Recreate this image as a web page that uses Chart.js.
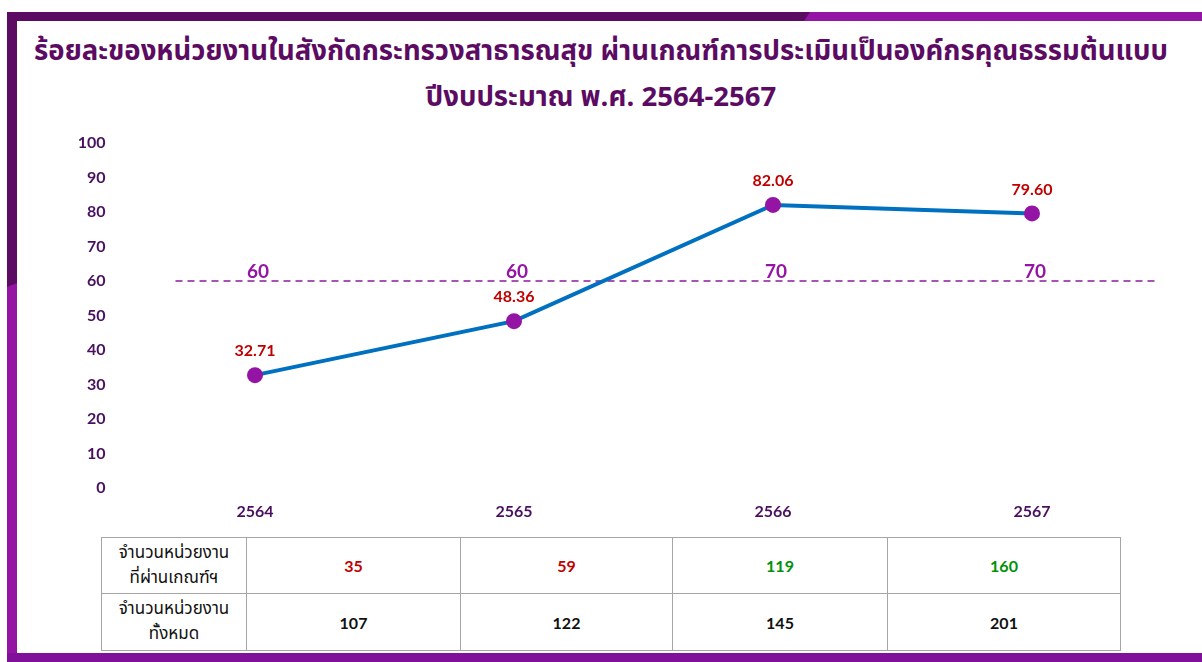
<!DOCTYPE html>
<html>
<head>
<meta charset="utf-8">
<script src="https://cdn.jsdelivr.net/npm/chart.js@4.4.1/dist/chart.umd.min.js"></script>
<style>
  body { margin: 0; background: #fff; width: 1202px; height: 662px; overflow: hidden; position: relative;
         font-family: "Noto Sans Thai", "Noto Sans", sans-serif; }
  .band { position: absolute; }
  #title { position: absolute; left: 0; top: 29px; width: 1202px; text-align: center; color: #5c0b63;
           font-size: 27.5px; font-weight: bold; line-height: 46px; }
  #chartBox { position: absolute; left: 0; top: 0; }
  #tbl { position: absolute; left: 101px; top: 537px; border-collapse: collapse; table-layout: fixed; }
  #tbl td { border: 1.5px solid #a6a6a6; text-align: center; padding: 0; }
  #tbl td.head { font-size: 17px; line-height: 25px; color: #111; }
  #tbl td.num { font-family: Lato, sans-serif; font-weight: bold; font-size: 16px; }
</style>
</head>
<body>
<div class="band" style="left:7px;top:12px;width:803px;height:9px;background:#5c0b63"></div>
<div class="band" style="left:804px;top:12px;width:398px;height:9px;background:#9414a4;clip-path:polygon(6px 0,100% 0,100% 100%,0 100%)"></div>
<div class="band" style="left:7px;top:12px;width:10px;height:275px;background:#5c0b63"></div>
<div class="band" style="left:7px;top:283px;width:10px;height:372px;background:#9414a4;clip-path:polygon(0 4px,100% 0,100% 100%,0 100%)"></div>
<div class="band" style="left:7px;top:653px;width:1195px;height:9px;background:#80109a"></div>

<div id="title">ร้อยละของหน่วยงานในสังกัดกระทรวงสาธารณสุข ผ่านเกณฑ์การประเมินเป็นองค์กรคุณธรรมต้นแบบ<br>ปีงบประมาณ พ.ศ. 2564-2567</div>

<div id="chartBox"><canvas id="myChart" width="1202" height="530"></canvas></div>

<table id="tbl"></table>

<script>
const years = ['2564', '2565', '2566', '2567'];
const percentPassed = [32.71, 48.36, 82.06, 79.60];
const targetLine = [60, 60, 60, 60];
const targetLabels = ['60', '60', '70', '70'];
const yTicks = [0, 10, 20, 30, 40, 50, 60, 70, 80, 90, 100];
const rowNames = [['จำนวนหน่วยงาน', 'ที่ผ่านเกณฑ์ฯ'], ['จำนวนหน่วยงาน', 'ทั้งหมด']];
const unitsPassed = [35, 59, 119, 160];
const unitsTotal = [107, 122, 145, 201];

// table under the chart
const colWidths = [144, 213, 211, 214, 232];
const rowHeights = [56, 57];
const passColors = ['#c00000', '#c00000', '#00900a', '#00900a'];
const tbl = document.getElementById('tbl');
[unitsPassed, unitsTotal].forEach((row, r) => {
  const tr = document.createElement('tr');
  tr.style.height = rowHeights[r] + 'px';
  const th = document.createElement('td');
  th.className = 'head';
  th.style.width = colWidths[0] + 'px';
  th.innerHTML = rowNames[r].join('<br>');
  tr.appendChild(th);
  row.forEach((v, i) => {
    const td = document.createElement('td');
    td.className = 'num';
    td.style.width = colWidths[i + 1] + 'px';
    td.style.color = r === 0 ? passColors[i] : '#111';
    td.textContent = v;
    tr.appendChild(td);
  });
  tbl.appendChild(tr);
});

const tickFont = { family: 'Lato, sans-serif', size: 16, weight: 'bold' };

const labelsPlugin = {
  id: 'target_and_values',
  beforeDatasetsDraw: (chart) => {
    const { ctx, chartArea, scales } = chart;
    const y = scales.y.getPixelForValue(targetLine[0]);
    ctx.save();
    // dashed target line
    ctx.strokeStyle = '#8a1a9c';
    ctx.lineWidth = 1.5;
    ctx.setLineDash([7, 5]);
    ctx.beginPath();
    ctx.moveTo(chartArea.left + 50, y);
    ctx.lineTo(chartArea.right - 3, y);
    ctx.stroke();
    ctx.setLineDash([]);
    // target value per year
    ctx.fillStyle = '#9414a4';
    ctx.font = 'bold 19px Lato, sans-serif';
    ctx.textAlign = 'center';
    ctx.textBaseline = 'middle';
    targetLabels.forEach((t, i) => {
      ctx.fillText(t, scales.x.getPixelForValue(i) + 3, scales.y.getPixelForValue(targetLine[i]) - 9);
    });
    ctx.restore();
  },
  afterDatasetsDraw: (chart) => {
    const { ctx } = chart;
    const meta = chart.getDatasetMeta(0);
    ctx.save();
    ctx.fillStyle = '#c00000';
    ctx.font = 'bold 16px Lato, sans-serif';
    ctx.textAlign = 'center';
    ctx.textBaseline = 'middle';
    meta.data.forEach((pt, i) => {
      ctx.fillText(percentPassed[i].toFixed(2), pt.x, pt.y - 24);
    });
    ctx.restore();
  },
};

new Chart(document.getElementById('myChart').getContext('2d'), {
  type: 'line',
  data: {
    labels: years,
    datasets: [
      {
        data: percentPassed,
        borderColor: '#0070c0',
        borderWidth: 4,
        pointBackgroundColor: '#9414a4',
        pointBorderColor: '#9414a4',
        pointRadius: 6,
        tension: 0,
        fill: false,
      },
    ],
  },
  options: {
    responsive: false,
    animation: false,
    layout: { padding: { left: 0, top: 143, right: 40.5, bottom: 0 } },
    scales: {
      x: {
        offset: true,
        grid: { display: false, drawTicks: false },
        border: { display: false },
        ticks: { color: '#4a1060', font: tickFont, padding: 14 },
        afterFit: (scale) => { scale.height = 42; },
      },
      y: {
        min: 0,
        max: 100,
        afterBuildTicks: (scale) => { scale.ticks = yTicks.map((v) => ({ value: v })); },
        grid: { display: false, drawTicks: false },
        border: { display: false },
        ticks: { color: '#4a1060', font: tickFont, padding: 20 },
        afterFit: (scale) => { scale.width = 125.5; },
      },
    },
    plugins: {
      legend: { display: false },
      tooltip: { enabled: false },
    },
  },
  plugins: [labelsPlugin],
});
</script>
</body>
</html>
